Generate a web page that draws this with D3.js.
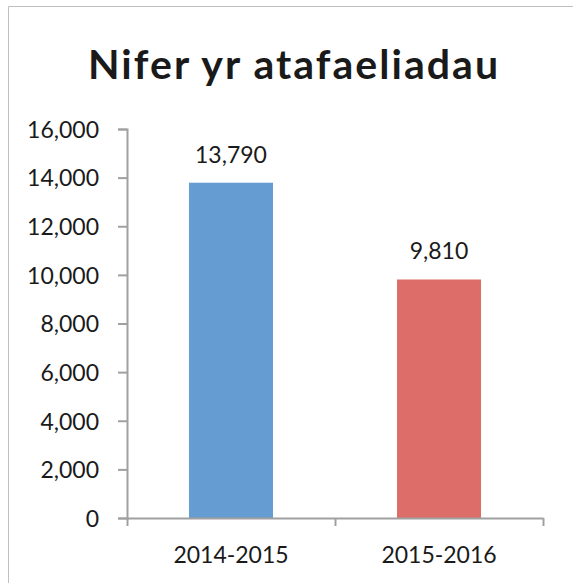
<!DOCTYPE html>
<html>
<head>
<meta charset="utf-8">
<title>Nifer yr atafaeliadau</title>
<script src="https://d3js.org/d3.v7.min.js"></script>
<style>
  body { margin: 0; background: #fff; }
  text { font-family: Lato, "Open Sans", sans-serif; fill: #1a1a1a; }
</style>
</head>
<body>
<div id="chart"></div>
<script>
// data
var years = ["2014-2015", "2015-2016"];
var counts = [13790, 9810];
var barColors = ["#659dd3", "#dd6d69"];
var yTicks = [0, 2000, 4000, 6000, 8000, 10000, 12000, 14000, 16000];
var title = "Nifer yr atafaeliadau";

var W = 573, H = 583;
var margin = {top: 129, right: 30, bottom: 65, left: 127};
var width = W - margin.left - margin.right,
    height = H - margin.top - margin.bottom;

var svg = d3.select("#chart").append("svg")
    .attr("width", W)
    .attr("height", H);

// chart frame (only the left and top edges are in view)
svg.append("path")
    .attr("d", "M8.5," + H + "V6.5H" + W)
    .attr("fill", "none")
    .attr("stroke", "#c0c0c0")
    .attr("stroke-width", 1);

// title, stretched a little to the width of the original bold face
svg.append("text")
    .attr("x", 88)
    .attr("y", 79)
    .attr("textLength", 410)
    .attr("lengthAdjust", "spacing")
    .style("font-size", "41px")
    .style("font-weight", "bold")
    .text(title);

var g = svg.append("g")
    .attr("transform", "translate(" + margin.left + "," + margin.top + ")");

var x = d3.scaleBand()
    .domain(years)
    .range([0, width])
    .paddingInner(0.596)
    .paddingOuter(0.298);

var y = d3.scaleLinear()
    .domain([0, 16000])
    .range([height, 0]);

// y axis
var yAxis = g.append("g")
    .call(d3.axisLeft(y).tickValues(yTicks).tickSize(9).tickPadding(19)
      .tickFormat(d3.format(",")));
yAxis.selectAll("text").style("font-size", "23px").attr("dy", "0.36em");

// bars
g.selectAll(".bar")
  .data(counts)
  .enter()
  .append("rect")
    .attr("class", "bar")
    .attr("x", function(d, i) { return x(years[i]); })
    .attr("y", function(d) { return y(d); })
    .attr("width", x.bandwidth())
    .attr("height", function(d) { return height - y(d); })
    .style("fill", function(d, i) { return barColors[i]; });

// value labels
g.selectAll(".lbl")
  .data(counts)
  .enter()
  .append("text")
    .attr("class", "lbl")
    .attr("x", function(d, i) { return x(years[i]) + x.bandwidth() / 2; })
    .attr("y", function(d) { return y(d) - 20; })
    .attr("text-anchor", "middle")
    .style("font-size", "23px")
    .text(function(d) { return d3.format(",")(d); });

// x axis, ticks sit between the categories
var xAxis = g.append("g")
    .attr("transform", "translate(0," + height + ")")
    .call(d3.axisBottom(x).tickSize(0).tickPadding(29));
xAxis.selectAll("text").style("font-size", "23px").attr("dy", "0.71em");
xAxis.selectAll(".sep")
  .data([0].concat(years.map(function(d) { return x(d) - x.step() * x.paddingOuter() + x.step(); })))
  .enter()
  .append("line")
    .attr("class", "sep")
    .attr("x1", function(d) { return d + 0.5; })
    .attr("x2", function(d) { return d + 0.5; })
    .attr("y1", 0)
    .attr("y2", 8);

svg.selectAll(".domain, .tick line, .sep")
    .attr("stroke", "#a0a0a0")
    .attr("stroke-width", 2);
</script>
</body>
</html>
